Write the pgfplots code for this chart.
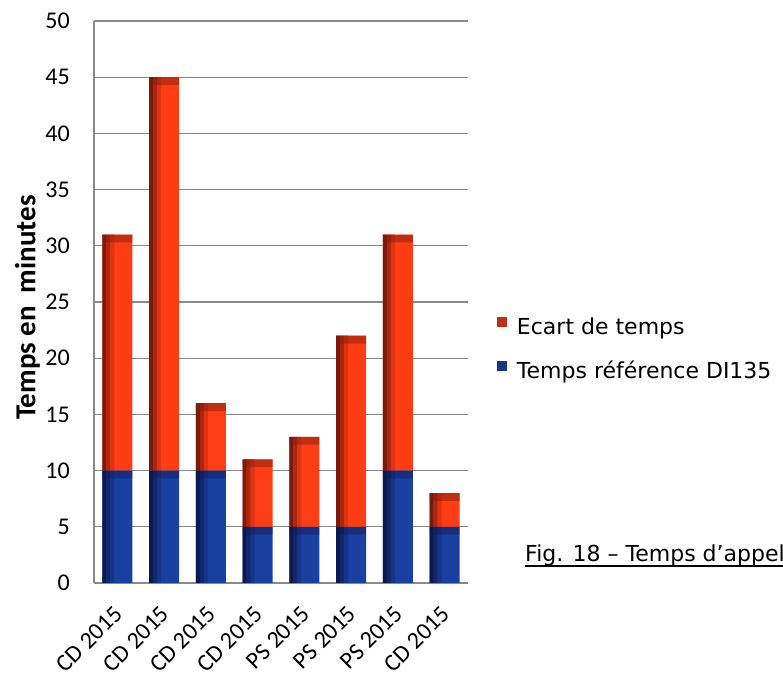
\documentclass[border=0pt]{standalone}
\usepackage{pgfplots}
\pgfplotsset{compat=1.18}
\usepackage{pgfplotstable}
\usepackage{fontspec}
\setmainfont{DejaVu Sans}
\newfontfamily\carlito{Carlito}
\definecolor{bluemain}{HTML}{1A40A2}
\definecolor{bluedark}{HTML}{0B1A4E}
\definecolor{redmain}{HTML}{FF3D14}
\definecolor{reddark}{HTML}{7A1A0C}
\definecolor{legred}{HTML}{C02E16}
\definecolor{legblue}{HTML}{17367F}
\definecolor{gridgray}{HTML}{8A8A8A}
\pgfplotstableread{
x base ecart
0 10 21
1 10 35
2 10 6
3 5 6
4 5 8
5 5 17
6 10 21
7 5 3
}\datatable
% top bevel bands: below-band part, band, below-band part, band
\pgfplotstableread{
x a b c d
0 9.3 0.7 20.3 0.7
1 9.3 0.7 34.3 0.7
2 9.3 0.7 5.3 0.7
3 4.3 0.7 5.3 0.7
4 4.3 0.7 7.3 0.7
5 4.3 0.7 16.3 0.7
6 9.3 0.7 20.3 0.7
7 4.3 0.7 2.3 0.7
}\captable
\pgfplotsset{
 common/.style={at={(94bp,94bp)}, anchor=south west, scale only axis,
  width=374bp, height=562bp, xmin=-0.5, xmax=7.5, ymin=0, ymax=50, ybar stacked},
 overlay/.style={common, hide axis, bar width=0.085},
}
\begin{document}
\begin{tikzpicture}
\path[use as bounding box, clip] (0,0) rectangle (783bp,677bp);
\begin{axis}[
 common, bar width=0.64,
 xtick={0,...,7},
 xticklabels={CD 2015,CD 2015,CD 2015,CD 2015,PS 2015,PS 2015,PS 2015,CD 2015},
 ytick={0,5,...,50},
 axis x line*=bottom, axis y line*=left,
 axis line style={gridgray, line width=1.5bp},
 ymajorgrids, grid style={gridgray, line width=1.3bp},
 major tick length=0pt,
 /pgf/number format/assume math mode=true,
 yticklabel style={font=\carlito\fontsize{24bp}{24bp}\selectfont, inner sep=0pt, xshift=-24bp, anchor=east},
 xticklabel style={font=\carlito\fontsize{24bp}{24bp}\selectfont, inner sep=0pt, xshift=1bp, yshift=-27bp, rotate=45, anchor=east},
 ylabel={Temps en~ minutes},
 every axis y label/.style={at={(axis description cs:-0.178,0.49)}, rotate=90, anchor=center, font=\carlito\bfseries\fontsize{29bp}{29bp}\selectfont},
 legend style={at={(axis description cs:1.0775,0.4733)}, anchor=north west, draw=none, fill=none, inner sep=0pt, outer sep=0pt, row sep=21bp, column sep=10bp, font=\fontsize{22bp}{22bp}\selectfont, nodes={inner sep=0pt, text height=16bp, text depth=5bp}},
 legend cell align=left,
 reverse legend,
]
\addplot[draw=none, fill=bluemain, legend image code/.code={\fill[legblue] (0bp,2bp) rectangle (10bp,12bp);}] table[x=x, y=base] {\datatable};
\addlegendentry{Temps référence DI135}
\addplot[draw=none, fill=redmain, legend image code/.code={\fill[legred] (0bp,2bp) rectangle (10bp,12bp);}] table[x=x, y=ecart] {\datatable};
\addlegendentry{Ecart de temps}
\end{axis}
% left-edge darkening, three strips
\begin{axis}[overlay, bar shift=-0.2775]
\addplot[draw=none, fill=bluedark] table[x=x, y=base] {\datatable};
\addplot[draw=none, fill=reddark] table[x=x, y=ecart] {\datatable};
\end{axis}
\begin{axis}[overlay, bar shift=-0.1925]
\addplot[draw=none, fill=bluedark!65!bluemain] table[x=x, y=base] {\datatable};
\addplot[draw=none, fill=reddark!62!redmain] table[x=x, y=ecart] {\datatable};
\end{axis}
\begin{axis}[overlay, bar shift=-0.1075]
\addplot[draw=none, fill=bluedark!28!bluemain] table[x=x, y=base] {\datatable};
\addplot[draw=none, fill=reddark!25!redmain] table[x=x, y=ecart] {\datatable};
\end{axis}
% top bevel of each segment
\begin{axis}[common, hide axis, bar width=0.64]
\addplot[draw=none, fill=none] table[x=x, y=a] {\captable};
\addplot[draw=none, fill=bluedark, fill opacity=0.4] table[x=x, y=b] {\captable};
\addplot[draw=none, fill=none] table[x=x, y=c] {\captable};
\addplot[draw=none, fill=reddark, fill opacity=0.45] table[x=x, y=d] {\captable};
\end{axis}
\node[anchor=base west, inner sep=0pt, font=\fontsize{22bp}{22bp}\selectfont] (cap) at (525bp,115bp) {Fig. 18 – Temps d’appels};
\draw[line width=1.6bp] ([yshift=-4bp]cap.base west) -- ([yshift=-4bp]cap.base east);
\end{tikzpicture}
\end{document}
